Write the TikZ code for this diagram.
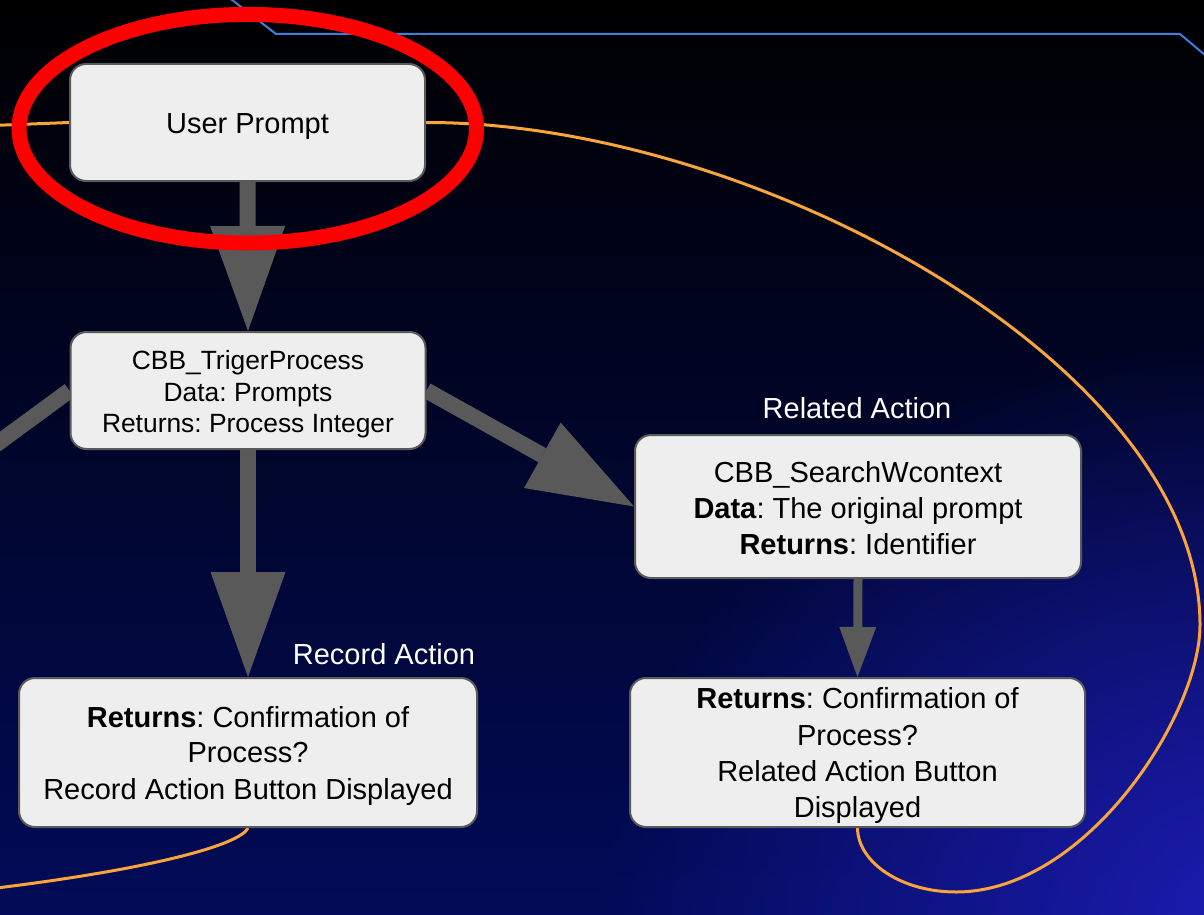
\documentclass[tikz,border=0pt]{standalone}
\usepackage{fontspec}
\setmainfont{Liberation Sans}
\usetikzlibrary{arrows.meta,fadings}
\definecolor{boxfill}{HTML}{EEEEEE}
\definecolor{boxline}{HTML}{5A5A5A}
\definecolor{arrowgrey}{HTML}{595959}
\definecolor{loopcol}{HTML}{FAA43C}
\definecolor{ringred}{HTML}{FF0000}
\definecolor{lineblue}{HTML}{3C7EDD}
\definecolor{bgtop}{HTML}{000000}
\definecolor{bgmid}{HTML}{00043A}
\definecolor{bgbot}{HTML}{010B58}
\definecolor{glowcol}{HTML}{1C1CB0}
\pgfdeclarelayer{bglayer}
\pgfdeclarelayer{connlayer}
\pgfsetlayers{bglayer,connlayer,main}
\tikzfading[name=glowfade, inner color=transparent!0, outer color=transparent!100]
\newcommand{\padtop}[1]{\rule{0pt}{#1}}
\tikzset{
  box/.style={draw=boxline, line width=2pt, fill=boxfill, rounded corners=16pt,
    align=center, text=black, inner sep=0pt, font=\frenchspacing\fontsize{29}{36}\selectfont},
  toplabel/.style={text=white, inner sep=0pt, font=\fontsize{29}{36}\selectfont},
  bigarrow/.style={draw=arrowgrey, line width=16pt,
    -{Triangle[length=105pt,width=75pt,line width=0pt]}},
  thinarrow/.style={draw=arrowgrey, line width=9pt,
    -{Triangle[length=50pt,width=37pt,line width=0pt]}},
  shaft/.style={draw=arrowgrey, line width=16pt},
  loopline/.style={draw=loopcol, line width=3pt},
  blueline/.style={draw=lineblue, line width=2pt},
  ring/.style={draw=ringred, line width=15pt}
}
\begin{document}
\frenchspacing
\begin{tikzpicture}[x=1pt,y=-1pt]
\useasboundingbox (0,0) rectangle (1204,915);
\begin{pgfonlayer}{bglayer}
  \shade[top color=bgtop, middle color=bgmid, bottom color=bgbot] (0,0) rectangle (1204,915);
  \fill[glowcol, path fading=glowfade] (1240,920) ellipse [x radius=640pt, y radius=580pt];
\end{pgfonlayer}

% nodes
\node[box, minimum width=355pt, minimum height=117pt] (up) at (247.5,122.5) {\padtop{29pt}User Prompt};
\node[box, minimum width=355pt, minimum height=117pt, font=\frenchspacing\fontsize{26.4}{31.5}\selectfont]
  (trig) at (248,390.5) {\padtop{27.2pt}CBB\_TrigerProcess\\Data: Prompts\\Returns: Process Integer};
\node[box, minimum width=446pt, minimum height=143pt] (rel) at (858,506.5)
  {\padtop{25pt}CBB\_SearchWcontext\\\textbf{Data}: The original prompt\\\textbf{Returns}: Identifier};
\node[box, minimum width=458pt, minimum height=149pt] (rec) at (248,752.5)
  {\padtop{27pt}\textbf{Returns}: Confirmation of\\Process?\\Record Action Button Displayed};
\node[box, minimum width=455pt, minimum height=149pt] (relres) at (857.5,752.5)
  {\padtop{27pt}\textbf{Returns}: Confirmation of\\Process?\\Related Action Button\\Displayed};
\node[toplabel] (reclab) at (384,654) {Record Action};
\node[toplabel] (rellab) at (857,408) {Related Action};

\coordinate (offleft) at (-70,493);
\coordinate (lp1) at (1200,625);
\coordinate (lp2) at (956,892);
\coordinate (leftin) at (-20,126);
\coordinate (leftout) at (-20,890);

\begin{pgfonlayer}{connlayer}
  \draw[blueline] (227,-4) -- (276,34) -- (1180,34) -- (1230,76);
  \draw[bigarrow] (up.south) -- (trig.north);
  \draw[bigarrow] (trig.south) -- (rec.north);
  \draw[bigarrow] (trig.east) -- (rel.west);
  \draw[shaft] (trig.west) -- (offleft);
  \draw[thinarrow] (rel.south) -- (relres.north);
  \draw[loopline] (up.east) .. controls (755,122) and (1200,365) .. (lp1)
    .. controls (1200,715) and (1086,892) .. (lp2)
    .. controls (902,892) and (858,863) .. (relres.south);
  \draw[loopline] (leftin) -- (up.west);
  \draw[loopline] (rec.south) .. controls (240,845) and (150,870) .. (leftout);
\end{pgfonlayer}

\draw[ring] (247.75,128.7) ellipse [x radius=228.75pt, y radius=114.3pt];
\end{tikzpicture}
\end{document}
